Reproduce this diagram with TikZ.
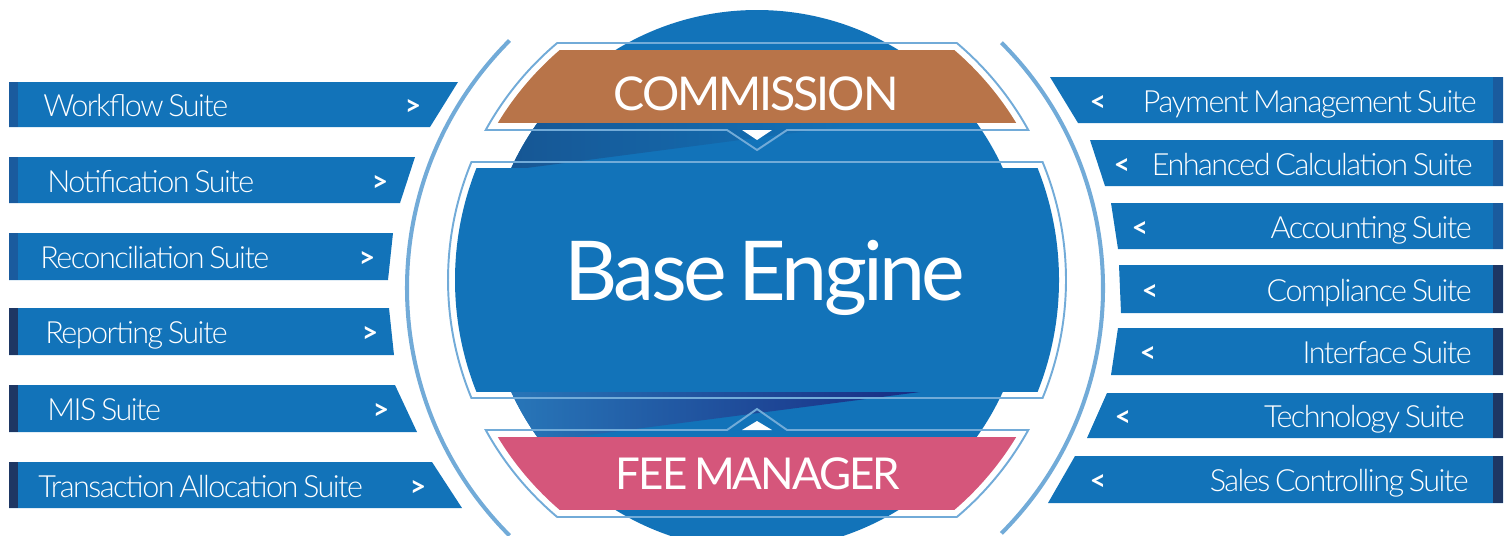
\documentclass[tikz,border=0pt]{standalone}
\usepackage{fontspec}
\setmainfont{Lato}
\newfontfamily\latotight{Lato}[LetterSpace=-4.5, WordSpace=0.7]
\newfontfamily\latolight{Lato Light}[LetterSpace=-5, WordSpace=0.7]
\newfontfamily\latobold{Lato Bold}
\usetikzlibrary{calc}
\definecolor{mainblue}{HTML}{1273B9}
\definecolor{ringblue}{HTML}{72ABD8}
\definecolor{commbrown}{HTML}{B87449}
\definecolor{feepink}{HTML}{D5567B}
\definecolor{stripeup}{HTML}{1A5B9E}
\definecolor{stripedown}{HTML}{1E3764}
\tikzset{
  ring/.style={draw=ringblue, line width=2.3pt},
  outline/.style={draw=ringblue, line width=1.1pt},
  barlabel/.style={text=white, inner sep=0pt, font=\latolight\fontsize{17.4}{20}\selectfont},
  chevron/.style={text=white, inner sep=0pt, font=\latobold\fontsize{16}{18}\selectfont},
  bandlabel/.style={text=white, inner sep=0pt, font=\latotight\fontsize{26.5}{30}\selectfont},
}
\begin{document}
\begin{tikzpicture}[x=0.02cm, y=-0.02cm]
        \useasboundingbox (0,0) rectangle (1510,535);
        \clip (0,0) rectangle (1510,535);
        \coordinate (c) at (757,280);
        %% big circle
        \fill[mainblue] (c) circle[radius=270];
        %% dark wedges
        \begin{scope}
            \clip (c) circle[radius=270];
            \shade[left color=stripeup!90!black, middle color=blue!35!stripeup, right color=mainblue]
                (450,123) -- (870,123) -- (450,178) -- cycle;
            \shade[left color=mainblue!90!white, middle color=stripeup!85!black, right color=stripedown!80!blue]
                (450,392) -- (920,392) -- (450,453) -- cycle;
        \end{scope}
        %% band fills
        \begin{scope}
            \clip (c) circle[radius=302];
            \fill[mainblue] (400,168) rectangle (1110,392);
        \end{scope}
        \begin{scope}
            \clip (c) circle[radius=303];
            \fill[commbrown] (400,50) rectangle (1110,123);
            \fill[feepink] (400,437) rectangle (1110,510);
        \end{scope}
        \fill[white] (742,130) -- (772,130) -- (757,140) -- cycle;
        \fill[white] (742,430) -- (772,430) -- (757,421) -- cycle;
        %% outlines
        \draw[outline] ($(c)+(202.45:309)$) -- ($(c)+(-22.45:309)$)
            arc[start angle=-22.45, end angle=22.45, radius=309]
            -- ($(c)+(157.55:309)$) arc[start angle=157.55, end angle=202.45, radius=309] -- cycle;
        \draw[outline] ($(c)+(229.86:310)$) -- ($(c)+(-49.86:310)$)
            arc[start angle=-49.86, end angle=-28.94, radius=310]
            -- (787,130) -- (757,150) -- (727,130)
            -- ($(c)+(208.94:310)$) arc[start angle=208.94, end angle=229.86, radius=310] -- cycle;
        \draw[outline] ($(c)+(151.06:310)$) -- (727,430) -- (757,409) -- (787,430)
            -- ($(c)+(28.94:310)$) arc[start angle=28.94, end angle=49.86, radius=310]
            -- ($(c)+(130.14:310)$) arc[start angle=130.14, end angle=151.06, radius=310] -- cycle;
        %% outer rings
        \draw[ring] ($(757,288)+(135:350)$) arc[start angle=135, end angle=225, radius=350];
        \draw[ring] ($(756,288)+(-45:347)$) arc[start angle=-45, end angle=45, radius=347];
        %% centre labels
        \node[text=white, inner sep=0pt, anchor=base, font=\latotight\fontsize{47}{50}\selectfont] (engine) at (765,300) {Base Engine};
        \node[bandlabel, anchor=base] (commission) at (756,110) {COMMISSION};
        \node[bandlabel, anchor=base, font=\latotight\fontsize{25}{28}\selectfont] (feemanager) at (758,489) {FEE MANAGER};
        %% left suites
        \foreach \yt/\yb/\xt/\xb/\lbl/\tx/\cx/\sc [count=\i] in {
            82/127/458/430/Workflow Suite/43/413/stripeup,
            157/203/415/400/Notification Suite/47/380/stripeup,
            233/280/393/388/Reconciliation Suite/40/367/stripeup,
            308/355/389/394/Reporting Suite/45/370/stripedown,
            385/432/395/417/MIS Suite/47/381/stripedown,
            462/508/432/462/Transaction Allocation Suite/38/418/stripedown}{
            \fill[mainblue] (9,\yt) -- (\xt,\yt) -- (\xb,\yb) -- (9,\yb) -- cycle;
            \fill[\sc] (9,\yt) rectangle (18,\yb);
            \node[barlabel, anchor=base west] (left\i) at (\tx,{(\yt+\yb)/2+12}) {\lbl};
            \node[chevron, anchor=base] (leftgo\i) at (\cx,{(\yt+\yb)/2+11}) {>};
        }
        %% right suites
        \foreach \yt/\yb/\xt/\xb/\lbl/\tx/\cx/\sc [count=\i] in {
            77/123/1050/1078/Payment Management Suite/1477/1098/stripeup,
            140/186/1090/1105/Enhanced Calculation Suite/1473/1122/stripeup,
            203/249/1111/1118/Accounting Suite/1472/1140/stripeup,
            265/313/1119/1121/Compliance Suite/1472/1150/stripedown,
            328/375/1118/1111/Interface Suite/1472/1148/stripedown,
            393/438/1107/1087/Technology Suite/1465/1123/stripedown,
            456/503/1075/1048/Sales Controlling Suite/1469/1098/stripedown}{
            \fill[mainblue] (\xt,\yt) -- (1503,\yt) -- (1503,\yb) -- (\xb,\yb) -- cycle;
            \fill[\sc] (1493,\yt) rectangle (1503,\yb);
            \node[barlabel, anchor=base east] (right\i) at (\tx,{(\yt+\yb)/2+12}) {\lbl};
            \node[chevron, anchor=base] (rightgo\i) at (\cx,{(\yt+\yb)/2+11}) {<};
        }
\end{tikzpicture}
\end{document}
